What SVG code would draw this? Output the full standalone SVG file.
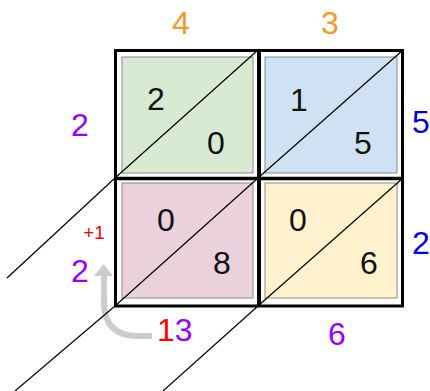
<svg xmlns="http://www.w3.org/2000/svg" width="430" height="391" viewBox="0 0 430 391">
<style>
text{font-family:"Liberation Sans",Arial,sans-serif;font-size:32px;text-anchor:middle}
.d{fill:#111}
.o{fill:#f09a28}
.p{fill:#9900ff}
.b{fill:#0000ee}
.r{fill:#ff0000}
.in{stroke:#8a8a8a;stroke-width:1}
.ln{stroke:#000;stroke-width:1.2;fill:none}
.grid{fill:none;stroke:#000;stroke-width:3}
</style>
<rect width="430" height="391" fill="#fff"/>
<g id="connectors">
<path d="M152,336 L138,336 Q104,336 104,302 L104,274" fill="none" stroke="#cccccc" stroke-width="6"/>
<polygon points="94,276 103.5,264 113,276" fill="#cccccc"/>
<line class="ln" x1="115" y1="178" x2="7" y2="278"/>
<line class="ln" x1="115" y1="306" x2="15" y2="391"/>
<line class="ln" x1="258" y1="306" x2="163" y2="391"/>
</g>
<g id="cell-green">
<rect class="in" x="122" y="57" width="131" height="116" fill="#d9ead3"/>
<line class="ln" x1="115" y1="178" x2="258" y2="50"/>
<text class="d" x="156" y="110">2</text>
<text class="d" x="216" y="154">0</text>
</g>
<g id="cell-blue">
<rect class="in" x="265" y="57" width="132" height="116" fill="#cfe2f3"/>
<line class="ln" x1="258" y1="178" x2="403" y2="50"/>
<text class="d" x="299" y="111">1</text>
<text class="d" x="363" y="154">5</text>
</g>
<g id="cell-pink">
<rect class="in" x="122" y="183" width="131" height="115" fill="#ead1dc"/>
<line class="ln" x1="115" y1="306" x2="258" y2="178"/>
<text class="d" x="166" y="231">0</text>
<text class="d" x="222" y="274">8</text>
</g>
<g id="cell-yellow">
<rect class="in" x="265" y="183" width="132" height="115" fill="#fff2cc"/>
<line class="ln" x1="258" y1="306" x2="403" y2="178"/>
<text class="d" x="298" y="231">0</text>
<text class="d" x="369" y="274">6</text>
</g>
<g id="grid">
<rect class="grid" x="115.5" y="50.5" width="287" height="255.5"/>
<line x1="259" y1="50" x2="259" y2="306" stroke="#000" stroke-width="4"/>
<line x1="115" y1="178.5" x2="403" y2="178.5" stroke="#000" stroke-width="3.5"/>
</g>
<g id="labels">
<text class="o" x="181" y="34">4</text>
<text class="o" x="330" y="34">3</text>
<text class="p" x="80" y="136">2</text>
<text class="b" x="421" y="133">5</text>
<text class="b" x="421" y="254">2</text>
<text class="r" x="94" y="239" style="font-size:19px">+1</text>
<text class="p" x="80" y="282">2</text>
<text x="157" y="341" style="text-anchor:start"><tspan class="r">1</tspan><tspan class="p">3</tspan></text>
<text class="p" x="337" y="345">6</text>
</g>
</svg>
